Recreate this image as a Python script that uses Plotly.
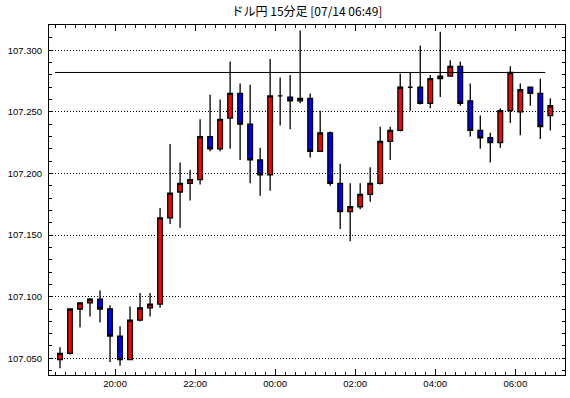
import plotly.graph_objects as go
import pandas as pd

title_text = "ドル円 15分足 [07/14 06:49]"
first_candle = "2020-07-13 18:30"
n_candles = 50

opens = [107.049, 107.054, 107.090, 107.095, 107.098, 107.090, 107.068, 107.049, 107.081, 107.091,
         107.094, 107.164, 107.185, 107.192, 107.195, 107.230, 107.220, 107.245, 107.265, 107.240,
         107.211, 107.199, 107.263, 107.262, 107.259, 107.261, 107.218, 107.233, 107.192, 107.169,
         107.173, 107.183, 107.192, 107.226, 107.235, 107.270, 107.270, 107.257, 107.277, 107.279,
         107.287, 107.259, 107.235, 107.229, 107.225, 107.251, 107.250, 107.270, 107.265, 107.247]
highs = [107.059, 107.090, 107.095, 107.099, 107.105, 107.093, 107.076, 107.092, 107.103, 107.103,
         107.172, 107.224, 107.209, 107.203, 107.244, 107.264, 107.260, 107.291, 107.273, 107.272,
         107.221, 107.293, 107.278, 107.280, 107.316, 107.265, 107.251, 107.234, 107.208, 107.192,
         107.192, 107.205, 107.238, 107.238, 107.281, 107.282, 107.304, 107.280, 107.315, 107.292,
         107.291, 107.273, 107.247, 107.233, 107.253, 107.287, 107.273, 107.270, 107.277, 107.261]
lows = [107.042, 107.053, 107.075, 107.084, 107.079, 107.047, 107.044, 107.049, 107.080, 107.084,
        107.091, 107.159, 107.156, 107.178, 107.191, 107.218, 107.218, 107.220, 107.211, 107.192,
        107.182, 107.186, 107.239, 107.236, 107.257, 107.213, 107.218, 107.190, 107.155, 107.145,
        107.171, 107.177, 107.191, 107.211, 107.234, 107.251, 107.256, 107.253, 107.262, 107.279,
        107.255, 107.230, 107.220, 107.209, 107.221, 107.241, 107.231, 107.255, 107.228, 107.235]
closes = [107.054, 107.090, 107.095, 107.098, 107.090, 107.068, 107.049, 107.081, 107.091, 107.094,
          107.164, 107.184, 107.192, 107.195, 107.230, 107.220, 107.244, 107.265, 107.240, 107.211,
          107.199, 107.263, 107.263, 107.259, 107.261, 107.218, 107.233, 107.192, 107.169, 107.173,
          107.183, 107.192, 107.226, 107.235, 107.270, 107.270, 107.257, 107.277, 107.279, 107.287,
          107.257, 107.235, 107.229, 107.225, 107.251, 107.282, 107.268, 107.265, 107.238, 107.255]
ref_level = 107.282

starts = pd.date_range(first_candle, periods=n_candles, freq="15min")
mids = starts + pd.Timedelta(minutes=7.5)

fig = go.Figure()
fig.add_trace(go.Candlestick(
    x=mids, open=opens, high=highs, low=lows, close=closes,
    increasing=dict(line=dict(color="black", width=1.3), fillcolor="#ff0000"),
    decreasing=dict(line=dict(color="black", width=1.3), fillcolor="#0000ff"),
    whiskerwidth=0, showlegend=False, hoverinfo="skip",
))

fig.add_shape(type="line", xref="x", yref="y",
              x0=starts[0], x1=starts[-1], y0=ref_level, y1=ref_level,
              line=dict(color="black", width=1), layer="above")

font_fam = "Liberation Sans, Arial, sans-serif"
fig.update_layout(
    width=570, height=398,
    margin=dict(l=49, r=5, t=25, b=23, autoexpand=False),
    paper_bgcolor="white", plot_bgcolor="white",
    boxgap=0.33,
    font=dict(family=font_fam, size=9.5, color="black"),
    title=dict(text=title_text, x=0.5386, xanchor="center", y=0.97, yanchor="middle",
               font=dict(family="Noto Sans CJK JP", size=12, color="black")),
    xaxis=dict(
        type="date", automargin=False,
        range=["2020-07-13 18:21:00", "2020-07-14 07:14:30"],
        rangeslider=dict(visible=False),
        tick0="2020-07-13 00:00", dtick=7200000, tickformat="%H:%M",
        ticks="inside", ticklen=6, tickcolor="black", tickwidth=1,
        minor=dict(dtick=900000, tick0="2020-07-13 00:00", ticks="inside", ticklen=3,
                   tickcolor="black", showgrid=False),
        showgrid=False, zeroline=False,
        showline=True, linecolor="black", linewidth=1, mirror="ticks",
        tickfont=dict(size=9.5),
    ),
    yaxis=dict(
        automargin=False,
        range=[107.03644, 107.32054],
        tick0=107.05, dtick=0.05, tickformat=".3f",
        ticks="inside", ticklen=3, tickcolor="black",
        minor=dict(dtick=0.01, tick0=107.0, ticks="inside", ticklen=3,
                   tickcolor="black", showgrid=False),
        showgrid=True, gridcolor="black", gridwidth=1, griddash="1px,2px",
        zeroline=False,
        showline=True, linecolor="black", linewidth=1, mirror="ticks",
        ticklabelstandoff=4,
        tickfont=dict(size=9.5),
    ),
)

fig.write_html("out.html", config={"displayModeBar": False},
               post_script="document.body.style.margin='0px';")
